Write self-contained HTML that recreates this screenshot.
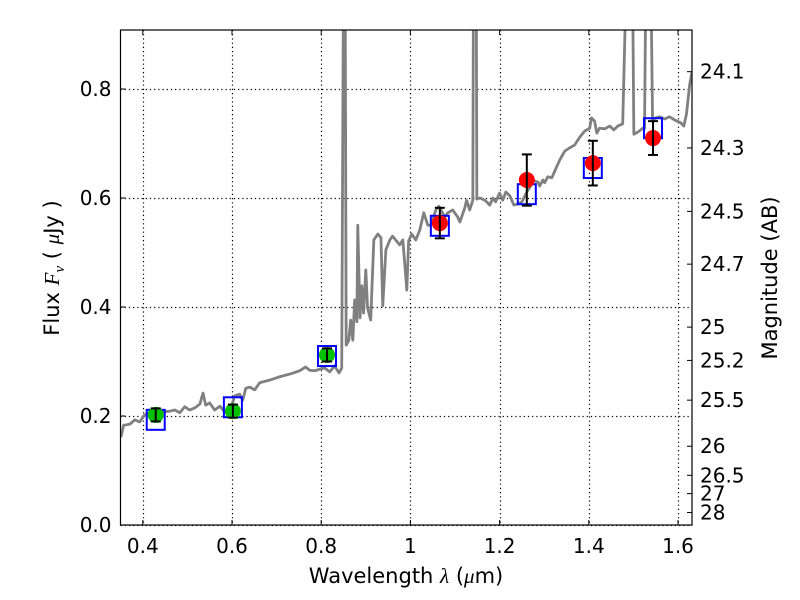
<!DOCTYPE html>
<html><head><meta charset="utf-8"><style>
html,body{margin:0;padding:0;background:#fff;}
svg{display:block;font-family:"DejaVu Sans","Liberation Sans",sans-serif;}
</style></head><body>
<svg id="chart" width="800" height="600" viewBox="0 0 800 600" xmlns="http://www.w3.org/2000/svg"></svg>
<script>
// ---- data ----
const specWave = [0.351,0.357,0.371,0.382,0.393,0.404,0.416,0.427,0.438,0.461,0.472,0.483,0.494,0.505,0.517,0.528,0.535,0.541,0.550,0.561,0.573,0.584,0.595,0.606,0.617,0.624,0.631,0.640,0.651,0.662,0.685,0.707,0.730,0.752,0.765,0.774,0.786,0.797,0.808,0.819,0.830,0.840,0.846,0.851,0.853,0.856,0.862,0.866,0.871,0.875,0.880,0.882,0.887,0.891,0.895,0.900,0.904,0.911,0.918,0.927,0.934,0.938,0.945,0.954,0.960,0.967,0.976,0.983,0.992,0.996,1.003,1.012,1.021,1.030,1.039,1.046,1.057,1.064,1.077,1.084,1.095,1.106,1.111,1.122,1.126,1.133,1.140,1.142,1.147,1.149,1.156,1.167,1.178,1.185,1.191,1.200,1.207,1.214,1.223,1.232,1.241,1.250,1.261,1.268,1.274,1.286,1.290,1.297,1.301,1.308,1.317,1.324,1.335,1.346,1.357,1.368,1.380,1.391,1.402,1.406,1.413,1.418,1.424,1.436,1.447,1.456,1.465,1.476,1.490,1.496,1.501,1.510,1.521,1.525,1.530,1.536,1.543,1.550,1.559,1.570,1.581,1.593,1.606,1.613,1.619,1.626,1.631];
const specFlux = [0.161,0.183,0.185,0.193,0.189,0.202,0.206,0.200,0.207,0.209,0.211,0.206,0.217,0.211,0.215,0.222,0.242,0.220,0.224,0.211,0.218,0.207,0.207,0.237,0.240,0.229,0.251,0.253,0.248,0.261,0.266,0.272,0.277,0.283,0.290,0.284,0.283,0.286,0.288,0.281,0.292,0.279,0.288,1.2,1.2,0.330,0.339,0.376,0.339,0.413,0.373,0.550,0.380,0.439,0.389,0.468,0.398,0.376,0.523,0.534,0.527,0.402,0.505,0.523,0.530,0.523,0.514,0.523,0.431,0.521,0.534,0.523,0.541,0.573,0.550,0.550,0.578,0.585,0.565,0.573,0.578,0.565,0.556,0.582,0.596,0.578,0.596,1.2,1.2,0.598,0.600,0.596,0.587,0.600,0.593,0.609,0.596,0.611,0.604,0.587,0.589,0.593,0.611,0.620,0.633,0.629,0.622,0.633,0.628,0.639,0.637,0.650,0.670,0.686,0.692,0.697,0.712,0.723,0.728,0.747,0.741,0.719,0.728,0.727,0.732,0.725,0.732,0.736,1.2,1.2,0.717,0.721,0.728,0.728,1.2,1.2,0.743,0.747,0.749,0.745,0.749,0.743,0.738,0.732,0.754,0.807,0.83];
const greenWave = [0.429,0.602,0.813];
const greenFlux = [0.202,0.209,0.312];
const greenErr = [0.012,0.012,0.012];
const redWave = [1.066,1.261,1.409,1.544];
const redFlux = [0.554,0.633,0.664,0.710];
const redErr = [0.028,0.047,0.041,0.031];
const modelWave = [0.429,0.602,0.813,1.066,1.261,1.409,1.544];
const modelFlux = [0.193,0.216,0.310,0.549,0.607,0.655,0.728];
const xTicks = [0.4,0.6,0.8,1.0,1.2,1.4,1.6];
const xTickLabels = ["0.4","0.6","0.8","1","1.2","1.4","1.6"];
const yTicks = [0.0,0.2,0.4,0.6,0.8];
const yTickLabels = ["0.0","0.2","0.4","0.6","0.8"];
const magTicks = [24.1,24.3,24.5,24.7,25,25.2,25.5,26,26.5,27,28];
const magTickLabels = ["24.1","24.3","24.5","24.7","25","25.2","25.5","26","26.5","27","28"];

// ---- layout ----
const L=120.5,R=692,T=30,B=525;
const xMin=0.35,xMax=0.35+(R-L)/446;
const yMin=0,yMax=(B-T)/545;
const X=v=>L+(v-xMin)/(xMax-xMin)*(R-L);
const Y=v=>B-(v-yMin)/(yMax-yMin)*(B-T);
const magToFlux=m=>Math.pow(10,(23.9-m)/2.5);
const NS="http://www.w3.org/2000/svg";
const svg=document.getElementById('chart');
function mk(tag,attrs,parent){const e=document.createElementNS(NS,tag);for(const k in attrs)e.setAttribute(k,attrs[k]);(parent||svg).appendChild(e);return e;}

const defs=mk('defs',{});
const cp=mk('clipPath',{id:'clip'},defs);
mk('rect',{x:L,y:T,width:R-L,height:B-T},cp);

// grid
const grid=mk('g',{stroke:'#000','stroke-width':1.2,'stroke-dasharray':'1.2,3'});


xTicks.forEach(v=>mk('line',{x1:Math.round(X(v))+0.5,x2:Math.round(X(v))+0.5,y1:T,y2:B},grid));
yTicks.forEach(v=>mk('line',{x1:L,x2:R,y1:Math.round(Y(v))+0.5,y2:Math.round(Y(v))+0.5},grid));

// spectrum
const plot=mk('g',{'clip-path':'url(#clip)'});
const spec=mk('polyline',{points:specWave.map((w,i)=>X(w)+','+Y(specFlux[i])).join(' '),fill:'none',stroke:'#808080','stroke-width':2.8,'stroke-linejoin':'round'},plot);



// model squares
modelWave.forEach((w,i)=>{
  const r=mk('rect',{x:X(w)-9,y:Y(modelFlux[i])-10,width:18,height:20,fill:'none',stroke:'#0000ff','stroke-width':2},plot);
  
  
});
function pts(ws,fs,es,col,name){
  ws.forEach((w,i)=>{
    const g=mk('g',{},plot);
    
    
    mk('circle',{cx:X(w),cy:Y(fs[i]),r:8,fill:col},g);
    const y1=Y(fs[i]-es[i]),y2=Y(fs[i]+es[i]);
    mk('line',{x1:X(w),x2:X(w),y1:y1,y2:y2,stroke:'#000','stroke-width':2},g);
    mk('line',{x1:X(w)-5,x2:X(w)+5,y1:y1,y2:y1,stroke:'#000','stroke-width':2},g);
    mk('line',{x1:X(w)-5,x2:X(w)+5,y1:y2,y2:y2,stroke:'#000','stroke-width':2},g);
  });
}
pts(greenWave,greenFlux,greenErr,'#00c000','observed-point-optical');
pts(redWave,redFlux,redErr,'#ff0000','observed-point-nir');

// frame
const fr=mk('rect',{x:L,y:T,width:R-L,height:B-T,fill:'none',stroke:'#000','stroke-width':1.2});



// ticks & labels
const FS=20;
const tk=mk('g',{stroke:'#000','stroke-width':1});
xTicks.forEach((v,i)=>{
  mk('line',{x1:X(v),x2:X(v),y1:B,y2:B-5},tk);mk('line',{x1:X(v),x2:X(v),y1:T,y2:T+5},tk);
  const t=mk('text',{x:X(v),y:B+28,'text-anchor':'middle','font-size':FS,fill:'#000'});
  t.textContent=xTickLabels[i];
  
  
});
yTicks.forEach((v,i)=>{
  mk('line',{x1:L,x2:L+5,y1:Y(v),y2:Y(v)},tk);
  const t=mk('text',{x:L-9,y:Y(v)+7,'text-anchor':'end','font-size':FS,fill:'#000'});
  t.textContent=yTickLabels[i];
  
  
});
magTicks.forEach((m,i)=>{
  const y=Y(magToFlux(m));
  mk('line',{x1:R,x2:R-5,y1:y,y2:y},tk);
  const t=mk('text',{x:R+8,y:y+7,'font-size':FS,fill:'#000'});
  t.textContent=magTickLabels[i];
  
  
});

// axis titles
const xt=mk('text',{x:406,y:583,'text-anchor':'middle','font-size':21,fill:'#000'});
xt.innerHTML='Wavelength  <tspan font-family="Liberation Serif,serif" font-style="italic">λ</tspan> (<tspan font-family="Liberation Serif,serif" font-style="italic">μ</tspan>m)';


const yt=mk('text',{transform:'translate(59,268) rotate(-90)','text-anchor':'middle','font-size':21,fill:'#000'});
yt.innerHTML='Flux  <tspan font-family="Liberation Serif,serif" font-style="italic">F</tspan><tspan font-family="Liberation Serif,serif" font-style="italic" font-size="15" dy="5">ν</tspan><tspan dy="-5">  ( </tspan><tspan font-family="Liberation Serif,serif" font-style="italic">μ</tspan>Jy )';


const rt=mk('text',{transform:'translate(777,278) rotate(-90)','text-anchor':'middle','font-size':21,fill:'#000'});
rt.textContent='Magnitude (AB)';


</script>
</body></html>
